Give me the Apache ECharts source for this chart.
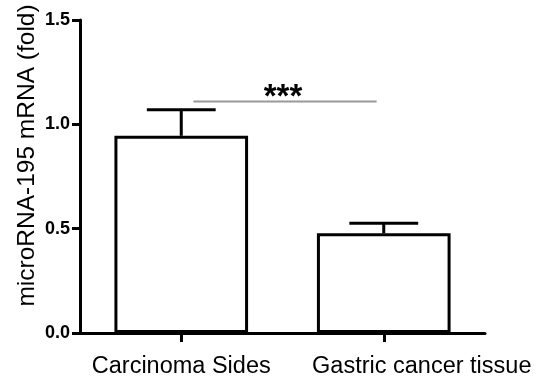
<!DOCTYPE html>
<html><head><meta charset="utf-8">
<script src="https://cdn.jsdelivr.net/npm/echarts@6/dist/echarts.min.js"></script>
<style>html,body{margin:0;padding:0;background:#fff}#c{width:537px;height:379px}</style>
</head><body><div id="c"></div>
<script>
var categories = ['Carcinoma Sides', 'Gastric cancer tissue'];
var means = [0.945, 0.478];
var errors = [0.125, 0.048];
var yTicks = [0, 0.5, 1.0, 1.5];
var sigLevel = 1.11;
var sigText = '***';

var chart = echarts.init(document.getElementById('c'));
chart.setOption({
  animation: false,
  grid: {left: 80, right: 52, top: 20, bottom: 46},
  xAxis: {
    type: 'category', data: categories,
    axisLine: {lineStyle: {color: '#000', width: 3}},
    axisTick: {show: true, alignWithLabel: true, interval: 0, length: 9, lineStyle: {color: '#000', width: 3}},
    axisLabel: {interval: 0, color: '#000', fontSize: 23.5, fontFamily: 'Liberation Sans, Arial', margin: 22,
      formatter: function (v, i) { return i === 1 ? '{s|' + v + '}' : v; },
      rich: {s: {fontSize: 23.5, fontFamily: 'Liberation Sans, Arial', color: '#000', padding: [0, 0, 0, 76]}}
    }
  },
  yAxis: {
    type: 'value', min: yTicks[0], max: yTicks[yTicks.length - 1], interval: 0.5,
    name: 'microRNA-195 mRNA (fold)', nameLocation: 'middle', nameGap: 40, nameMoveOverlap: false,
    nameTextStyle: {color: '#000', fontSize: 24.5, fontFamily: 'Liberation Sans, Arial', padding: [0, 0, 0, 42]},
    axisLine: {show: true, lineStyle: {color: '#000', width: 3}},
    axisTick: {show: true, length: 8, lineStyle: {color: '#000', width: 3}},
    splitLine: {show: false},
    axisLabel: {color: '#000', fontSize: 18, fontWeight: 'bold', fontFamily: 'Liberation Sans, Arial', margin: 10,
      formatter: function (v) { return v.toFixed(1); }}
  },
  series: [
    {
      type: 'bar', data: means, barWidth: '66%', z: 2,
      itemStyle: {color: '#fff', borderColor: '#000', borderWidth: 3}
    },
    {
      type: 'custom', z: 3,
      data: means.map(function (m, i) { return [i, m, m + errors[i]]; }),
      renderItem: function (params, api) {
        var p0 = api.coord([api.value(0), api.value(1)]);
        var p1 = api.coord([api.value(0), api.value(2)]);
        var half = api.size([1, 0])[0] * 0.17;
        var st = {stroke: '#000', lineWidth: 3};
        return {type: 'group', children: [
          {type: 'line', shape: {x1: p0[0], y1: p0[1], x2: p1[0], y2: p1[1]}, style: st},
          {type: 'line', shape: {x1: p1[0] - half, y1: p1[1], x2: p1[0] + half, y2: p1[1]}, style: st}
        ]};
      }
    },
    {
      type: 'custom', z: 3,
      data: [[0, 1, sigLevel]],
      renderItem: function (params, api) {
        var a = api.coord([api.value(0), api.value(2)]);
        var b = api.coord([api.value(1), api.value(2)]);
        var w = api.size([1, 0])[0];
        var x1 = a[0] + w * 0.06, x2 = b[0] - w * 0.035;
        return {type: 'group', children: [
          {type: 'line', shape: {x1: x1, y1: a[1], x2: x2, y2: a[1]}, style: {stroke: '#999', lineWidth: 2}},
          {type: 'text', x: (x1 + x2) / 2 - 2, y: a[1] - 3,
            style: {text: sigText, fill: '#000', font: 'bold 33px Liberation Sans, Arial', textAlign: 'center', textVerticalAlign: 'middle'}}
        ]};
      }
    }
  ]
});
</script></body></html>
